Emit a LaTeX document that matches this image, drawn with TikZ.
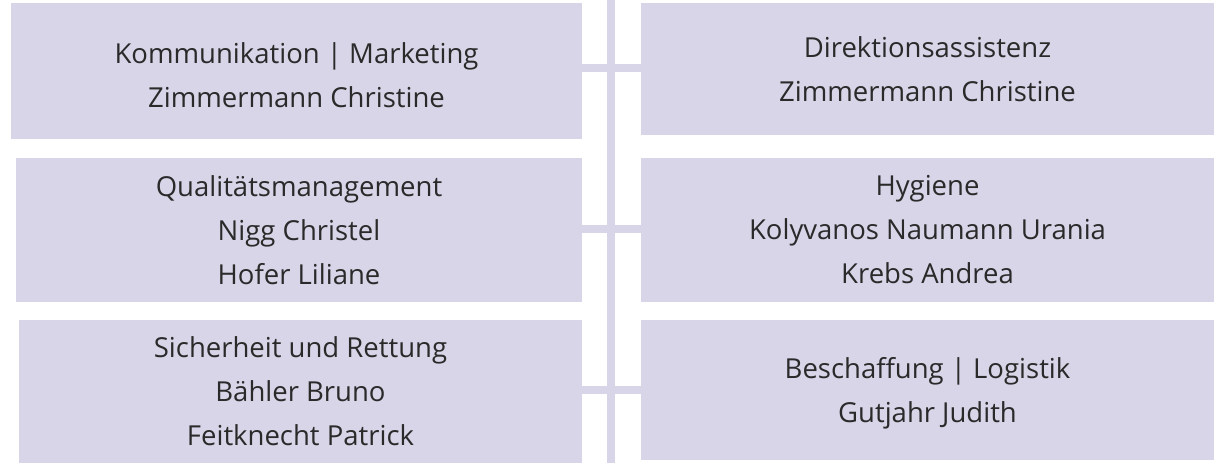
\documentclass[tikz,border=0pt]{standalone}
\usepackage{fontspec}
\setmainfont{Open Sans}
\usepackage{tikz}

\definecolor{lavender}{HTML}{D8D5E8}
\definecolor{textgray}{HTML}{2A2A2A}

\tikzset{
  unitbox/.style={fill=lavender, draw=none, align=center, inner sep=0pt,
    text=textgray, font=\fontsize{27.5}{44}\selectfont},
  bar/.style={draw=lavender, line width=8pt}
}

\begin{document}
\begin{tikzpicture}[x=1pt, y=-1pt]
			\useasboundingbox (0,0) rectangle (1214,463);
			%%%%%%%%%%%%%%%%%%%%%%%%%%%%%%%%
			\coordinate (top) at (611,0);
			\coordinate (bottom) at (611,463);
			\coordinate (row1) at (611,68);
			\coordinate (row2) at (611,229);
			\coordinate (row3) at (611,390);
			\draw[bar] (top) -- (bottom);
			%%%%%%%%%%%%%%%%%%%%%%%%%%%%%%%%
			\node[unitbox, minimum width=571pt, minimum height=136pt] (kom) at (296.5,70.5)
				{\rule{0pt}{30pt}Kommunikation | Marketing\\Zimmermann Christine};
			\node[unitbox, minimum width=573pt, minimum height=132pt] (dir) at (927.5,69)
				{Direktionsassistenz\\Zimmermann Christine};
			\node[unitbox, minimum width=566pt, minimum height=144pt] (qm) at (299,230)
				{Qualitätsmanagement\\Nigg Christel\\Hofer Liliane};
			\node[unitbox, minimum width=573pt, minimum height=144pt] (hyg) at (927.5,230)
				{Hygiene\\Kolyvanos Naumann Urania\\Krebs Andrea};
			\node[unitbox, minimum width=563pt, minimum height=143pt] (sir) at (300.5,391.5)
				{Sicherheit und Rettung\\Bähler Bruno\\Feitknecht Patrick};
			\node[unitbox, minimum width=573pt, minimum height=140pt] (bes) at (927.5,390)
				{\rule{0pt}{28pt}Beschaffung | Logistik\\Gutjahr Judith};
			%%%%%%%%%%%%%%%%%%%%%%%%%%%%%
			\draw[bar] (kom.east |- row1) -- (dir.west |- row1);
			\draw[bar] (qm.east |- row2) -- (hyg.west |- row2);
			\draw[bar] (sir.east |- row3) -- (bes.west |- row3);
		\end{tikzpicture}
\end{document}
